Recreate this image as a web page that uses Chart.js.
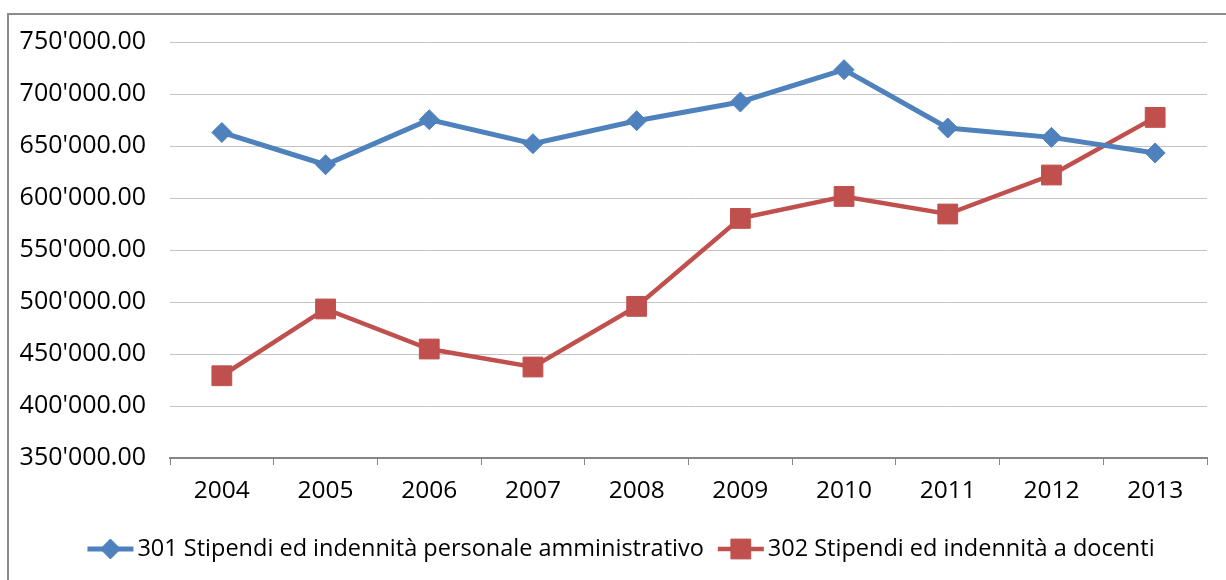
<!DOCTYPE html>
<html>
<head>
<meta charset="utf-8">
<script src="https://cdn.jsdelivr.net/npm/chart.js@4"></script>
<style>
  html, body { margin: 0; padding: 0; background: #fff; overflow: hidden; }
  #frame { position: absolute; left: 7px; top: 13px; width: 1300px; height: 700px; border: 2px solid #8c8c8c; }
  #wrap { position: absolute; left: 0; top: 0; width: 1226px; height: 580px; }
</style>
</head>
<body>
<div id="frame"></div>
<div id="wrap"><canvas id="chart"></canvas></div>
<script>
const years = ['2004', '2005', '2006', '2007', '2008', '2009', '2010', '2011', '2012', '2013'];
const personaleAmministrativo = [663000, 632000, 675300, 652200, 674300, 692300, 723400, 667300, 658300, 643300];
const docenti = [429100, 493300, 454800, 437500, 495800, 580400, 601500, 584600, 622100, 677500];
const seriesNames = [
    '301 Stipendi ed indennità personale amministrativo',
    '302 Stipendi ed indennità a docenti'
];
const yMin = 350000;
const yMax = 750000;
const yStep = 50000;

const FONT = "'Open Sans', sans-serif";

function formatSwiss(v) {
    const parts = v.toFixed(2).split('.');
    return parts[0].replace(/\B(?=(\d{3})+(?!\d))/g, "'") + '.' + parts[1];
}

// legenda con linea + simbolo, come in Excel
const lineLegend = {
    id: 'lineLegend',
    afterDraw(chart) {
        const ctx = chart.ctx;
        const y = 549;
        ctx.save();
        ctx.font = '23.5px ' + FONT;
        ctx.textBaseline = 'middle';
        ctx.textAlign = 'left';
        const lineW = 46, gapText = 4, gapItem = 14;
        const items = chart.data.datasets.map(ds => ({ ds, w: lineW + gapText + ctx.measureText(ds.label).width }));
        const total = items.reduce((s, it) => s + it.w, 0) + gapItem * (items.length - 1);
        let x = 621 - total / 2;
        items.forEach(({ ds, w }) => {
            ctx.strokeStyle = ds.borderColor;
            ctx.lineWidth = ds.borderWidth;
            ctx.beginPath();
            ctx.moveTo(x, y);
            ctx.lineTo(x + lineW, y);
            ctx.stroke();
            ctx.fillStyle = ds.pointBackgroundColor;
            ctx.strokeStyle = ds.pointBorderColor;
            ctx.lineWidth = 1;
            Chart.helpers.drawPoint(ctx, { pointStyle: ds.pointStyle, radius: ds.pointRadius, rotation: 0, borderWidth: 1 }, x + lineW / 2, y);
            ctx.fillStyle = '#000';
            ctx.fillText(ds.label, x + lineW + gapText, y);
            x += w + gapItem;
        });
        ctx.restore();
    }
};

new Chart(document.getElementById('chart'), {
    type: 'line',
    data: {
        labels: years,
        datasets: [{
            label: seriesNames[0],
            data: personaleAmministrativo,
            borderColor: '#4f81bd',
            borderWidth: 5,
            pointStyle: 'rectRot',
            pointRadius: 10,
            pointBackgroundColor: '#4f81bd',
            pointBorderColor: '#4f81bd',
            pointBorderWidth: 1,
            tension: 0
        }, {
            label: seriesNames[1],
            data: docenti,
            borderColor: '#c0504d',
            borderWidth: 4.5,
            pointStyle: 'rect',
            pointRadius: 14,
            pointBackgroundColor: '#c0504d',
            pointBorderColor: '#c0504d',
            pointBorderWidth: 1,
            tension: 0
        }]
    },
    options: {
        responsive: true,
        maintainAspectRatio: false,
        animation: false,
        layout: { padding: { top: 42, right: 19, bottom: 0, left: 0 } },
        plugins: {
            legend: { display: false },
            tooltip: { enabled: false }
        },
        scales: {
            x: {
                offset: true,
                grid: { offset: true, drawOnChartArea: false, drawTicks: true, tickLength: 7, color: '#868686', lineWidth: 1 },
                border: { display: true, color: '#868686', width: 2 },
                ticks: { color: '#000', font: { family: FONT, size: 24.5 }, padding: 11 },
                afterFit(scale) { scale.height = 122; }
            },
            y: {
                min: yMin,
                max: yMax,
                grid: { color: '#c4c4c4', lineWidth: 1, drawTicks: false },
                border: { display: false },
                ticks: {
                    stepSize: yStep,
                    color: '#000',
                    font: { family: FONT, size: 25 },
                    padding: 24,
                    callback: v => formatSwiss(v)
                },
                afterFit(scale) { scale.width = 170; }
            }
        }
    },
    plugins: [lineLegend]
});
</script>
</body>
</html>
